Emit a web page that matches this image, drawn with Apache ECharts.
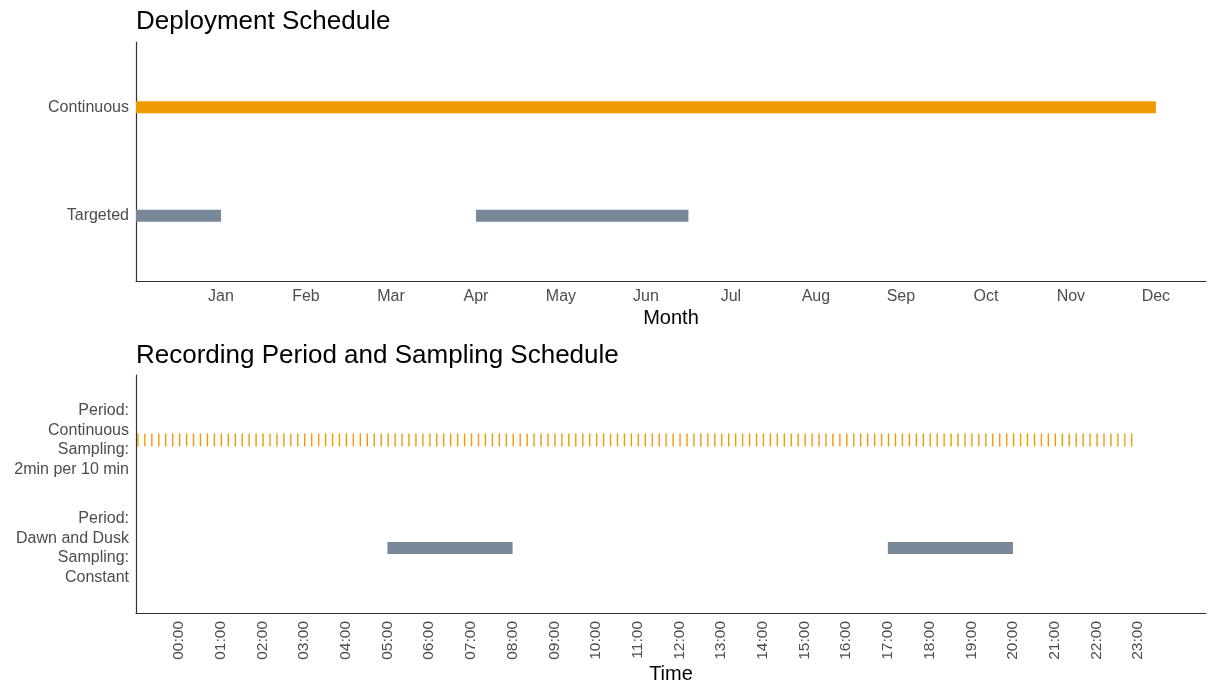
<!DOCTYPE html>
<html><head><meta charset="utf-8">
<script src="https://cdn.jsdelivr.net/npm/echarts@6/dist/echarts.min.js"></script>
<style>html,body{margin:0;padding:0;background:#fff}#c{width:1208px;height:686px}</style>
</head><body><div id="c"></div>
<script>
// ---- data ----
const deployCategories = ['Targeted', 'Continuous'];           // y index 1, 2
const monthLabels = ['Jan','Feb','Mar','Apr','May','Jun','Jul','Aug','Sep','Oct','Nov','Dec']; // at 1..12
const deployContinuous = [[0, 12]];                           // [start month, end month]
const deployTargeted = [[0, 1], [4, 6.5]];

const scheduleCategories = ['Period:\nDawn and Dusk\nSampling:\nConstant', 'Period:\nContinuous\nSampling:\n2min per 10 min'];
const hourLabels = ['00:00','01:00','02:00','03:00','04:00','05:00','06:00','07:00','08:00','09:00','10:00','11:00',
  '12:00','13:00','14:00','15:00','16:00','17:00','18:00','19:00','20:00','21:00','22:00','23:00'];
const dawnDusk = [[5, 8], [17, 20]];                          // hours
const sampleLengthMin = 2;                                    // minutes recorded per sample
// start minute of each 2-minute sample (relative to 00:00)
const sampleStartsMin = [
  -60,-50,-40,-30,-20,-10,0,10,20,30,40,50,
  60,70,80,90,100,110,120,130,140,150,160,170,
  180,190,200,210,220,230,240,250,260,270,280,290,
  300,310,320,330,340,350,360,370,380,390,400,410,
  420,430,440,450,460,470,480,490,500,510,520,530,
  540,550,560,570,580,590,600,610,620,630,640,650,
  660,670,680,690,700,710,720,730,740,750,760,770,
  780,790,800,810,820,830,840,850,860,870,880,890,
  900,910,920,930,940,950,960,970,980,990,1000,1010,
  1020,1030,1040,1050,1060,1070,1080,1090,1100,1110,1120,1130,
  1140,1150,1160,1170,1180,1190,1200,1210,1220,1230,1240,1250,
  1260,1270,1280,1290,1300,1310,1320,1330,1340,1350,1360,1370
];

const ORANGE = '#EE9A00', GREY = '#778899';
const FONT = '"Liberation Sans", Arial, sans-serif';

function segData(arr, y) { return arr.map(s => [s[0], s[1], y]); }
function rectRender(h) {
  return function (params, api) {
    const p0 = api.coord([api.value(0), api.value(2)]);
    const p1 = api.coord([api.value(1), api.value(2)]);
    return { type: 'rect', shape: { x: p0[0], y: p0[1] - h / 2, width: p1[0] - p0[0], height: h },
      style: { fill: api.visual('color') } };
  };
}

const samples = sampleStartsMin.map(m => [m / 60, (m + sampleLengthMin) / 60, 2]);

const axisLine = { show: true, onZero: false, lineStyle: { color: '#333', width: 1.2 } };
const labelStyle = { color: '#4d4d4d', fontSize: 16, fontFamily: FONT };
const titleStyle = { fontSize: 26, fontWeight: 'normal', color: '#000', fontFamily: FONT };
const nameStyle = { color: '#000', fontSize: 20, fontFamily: FONT };

const chart = echarts.init(document.getElementById('c'), null, { renderer: 'canvas' });
chart.setOption({
  animation: false,
  backgroundColor: '#fff',
  title: [
    { text: 'Deployment Schedule', left: 136, top: 9, padding: 0, textStyle: titleStyle },
    { text: 'Recording Period and Sampling Schedule', left: 136, top: 343, padding: 0, textStyle: titleStyle }
  ],
  grid: [
    { left: 136, right: 2, top: 42, height: 239 },
    { left: 136, right: 2, top: 375, height: 238 }
  ],
  xAxis: [
    { gridIndex: 0, type: 'value', min: 0, max: 12.59, splitLine: { show: false }, axisLine, axisTick: { show: false },
      axisLabel: Object.assign({ customValues: [1,2,3,4,5,6,7,8,9,10,11,12], margin: 8, formatter: v => monthLabels[Math.round(v) - 1] }, labelStyle),
      name: 'Month', nameLocation: 'middle', nameGap: 27, nameTextStyle: nameStyle },
    { gridIndex: 1, type: 'value', min: -1.03, max: 24.63, splitLine: { show: false }, axisLine, axisTick: { show: false },
      axisLabel: Object.assign({ customValues: hourLabels.map((_, i) => i), margin: 8, rotate: 90, formatter: v => hourLabels[Math.round(v)] }, labelStyle, { fontSize: 15.5 }),
      name: 'Time', nameLocation: 'middle', nameGap: 51, nameTextStyle: nameStyle }
  ],
  yAxis: [
    { gridIndex: 0, type: 'value', min: 0.4, max: 2.6, splitLine: { show: false }, axisLine, axisTick: { show: false },
      axisLabel: Object.assign({ customValues: [1, 2], margin: 7, formatter: v => deployCategories[Math.round(v) - 1] }, labelStyle) },
    { gridIndex: 1, type: 'value', min: 0.4, max: 2.6, splitLine: { show: false }, axisLine, axisTick: { show: false },
      axisLabel: Object.assign({ customValues: [1, 2], margin: 7, lineHeight: 19.5, align: 'right', padding: [5, 0, 0, 0], formatter: v => scheduleCategories[Math.round(v) - 1] }, labelStyle) }
  ],
  series: [
    { type: 'custom', xAxisIndex: 0, yAxisIndex: 0, itemStyle: { color: ORANGE }, renderItem: rectRender(12), data: segData(deployContinuous, 2) },
    { type: 'custom', xAxisIndex: 0, yAxisIndex: 0, itemStyle: { color: GREY }, renderItem: rectRender(12), data: segData(deployTargeted, 1) },
    { type: 'custom', xAxisIndex: 1, yAxisIndex: 1, itemStyle: { color: ORANGE }, renderItem: rectRender(13), data: samples },
    { type: 'custom', xAxisIndex: 1, yAxisIndex: 1, itemStyle: { color: GREY }, renderItem: rectRender(12), data: segData(dawnDusk, 1) }
  ]
});
</script></body></html>
